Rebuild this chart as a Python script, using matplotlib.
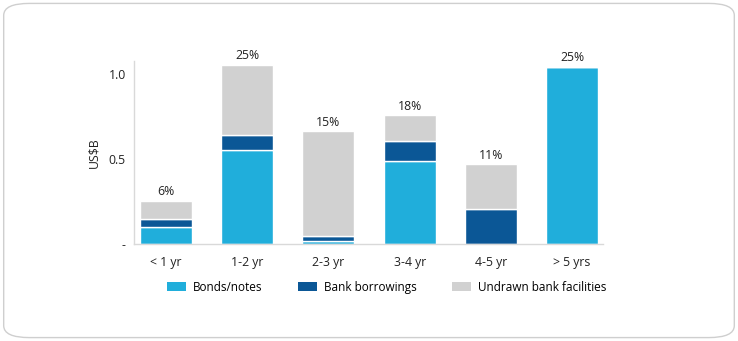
import numpy as np
import matplotlib.pyplot as plt
from matplotlib.patches import FancyBboxPatch, Patch

categories = ['< 1 yr', '1-2 yr', '2-3 yr', '3-4 yr', '4-5 yr', '> 5 yrs']
bonds = [0.10, 0.55, 0.02, 0.49, 0.0, 1.04]
bank = [0.05, 0.09, 0.027, 0.115, 0.21, 0.0]
undrawn = [0.105, 0.41, 0.615, 0.15, 0.26, 0.0]
pct_labels = ['6%', '25%', '15%', '18%', '11%', '25%']

c_bonds = '#20aedb'
c_bank = '#0b5796'
c_undrawn = '#d1d1d1'

plt.rcParams['font.family'] = ['Open Sans', 'DejaVu Sans']

fig = plt.figure(figsize=(7.38, 3.41), dpi=100)
ax = fig.add_axes([0.1816, 0.283, 0.6355, 0.539])

# rounded frame around the whole chart
frame = FancyBboxPatch((0.005, 0.01), 0.99, 0.98, boxstyle='round,pad=0,rounding_size=0.035',
                       transform=fig.transFigure, facecolor='white', edgecolor='#cfcfcf',
                       linewidth=1, zorder=-10)
fig.patches.append(frame)

x = np.arange(len(categories))
w = 0.64
bonds = np.array(bonds)
bank = np.array(bank)
undrawn = np.array(undrawn)
ax.bar(x, bonds, w, color=c_bonds, edgecolor='white', linewidth=1)
ax.bar(x, bank, w, bottom=bonds, color=c_bank, edgecolor='white', linewidth=1)
ax.bar(x, undrawn, w, bottom=bonds + bank, color=c_undrawn, edgecolor='white', linewidth=1)

totals = bonds + bank + undrawn
for xi, t, lab in zip(x, totals, pct_labels):
    ax.text(xi, t + 0.015, lab, ha='center', va='bottom', fontsize=8.8, color='#222222')

ax.set_xlim(-0.394, 5.38)
ax.set_ylim(0, 1.075)
ax.set_xticks(x)
ax.set_xticklabels(categories)
ax.set_yticks([0, 0.5, 1.0])
ax.set_yticklabels(['-', '0.5', '1.0'])
ax.tick_params(length=0, labelsize=8.8, colors='#222222')
ax.tick_params(axis='x', pad=8)
ax.tick_params(axis='y', pad=6)
ax.set_ylabel('US$B', fontsize=8.8, color='#222222', labelpad=6)

for s in ['top', 'right']:
    ax.spines[s].set_visible(False)
for s in ['left', 'bottom']:
    ax.spines[s].set_color('#d9d9d9')
    ax.spines[s].set_linewidth(1)

handles = [Patch(facecolor=c_bonds, label='Bonds/notes'),
           Patch(facecolor=c_bank, label='Bank borrowings'),
           Patch(facecolor=c_undrawn, label='Undrawn bank facilities')]
fig.legend(handles=handles, loc='center', bbox_to_anchor=(0.524, 0.158), ncol=3, frameon=False,
           fontsize=8.5, handlelength=1.6, handleheight=0.7, columnspacing=3.0, handletextpad=0.6)

fig.savefig('out.png', dpi=100)
